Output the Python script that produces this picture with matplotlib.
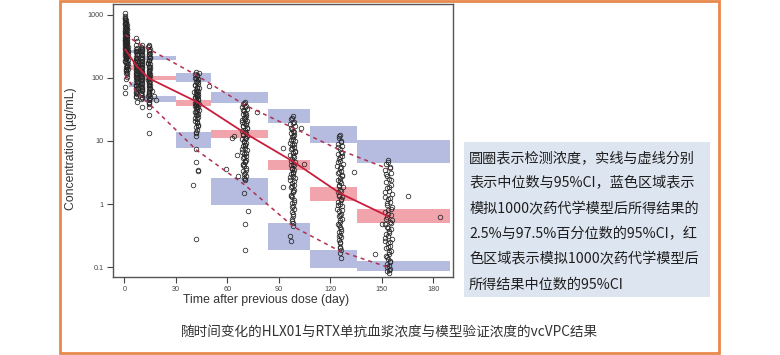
import matplotlib
matplotlib.use("Agg")
import matplotlib.pyplot as plt
from matplotlib.patches import Rectangle

# ---------------- data ----------------
# observed concentrations (ug/mL) by sampling cluster
t1 = [0.3, 0.1, 0.5, 0.2, 0.8, 0.4, 1.1, 0.6, 0.2, 1.3, 0.7, 0.3, 1.0, 0.5, 1.5, 0.9, 0.2, 1.2, 0.6, 1.7,
      0.4, 0.9, 1.4, 0.3, 1.1, 0.7, 1.8, 0.5, 1.0, 0.2, 1.3, 0.8, 1.6, 0.4, 1.2, 0.6, 2.0, 0.9, 0.3, 1.4,
      0.7, 1.1, 1.9, 0.5, 1.3, 0.8, 2.2, 1.0, 0.4, 1.6, 0.9, 1.2, 2.1, 0.6, 1.5, 1.0, 1.8, 1.3, 0.8, 2.0,
      1.1, 1.6, 0.9, 1.7, 1.0, 0.6, 0.4,
      0.6, 1.2, 0.3, 0.9, 1.5, 0.4, 1.0, 0.7, 1.8, 0.2, 1.3, 0.6, 1.1, 0.3, 1.6, 0.8, 1.4, 0.5, 1.9, 1.0,
      0.3, 1.7, 0.9, 1.2, 0.5, 2.0, 1.4, 0.7, 1.1, 1.5]
c1 = [1050, 960, 900, 860, 820, 790, 760, 730, 700, 680, 660, 640, 620, 600, 585, 570, 550, 535, 520, 505,
      490, 475, 460, 450, 440, 425, 410, 400, 390, 380, 370, 360, 350, 340, 330, 320, 312, 305, 298, 290,
      282, 275, 268, 260, 252, 245, 238, 230, 222, 215, 208, 200, 192, 185, 178, 170, 162, 155, 148, 140,
      133, 126, 120, 102, 95, 71, 58,
      870, 750, 710, 630, 590, 545, 510, 470, 455, 430, 415, 395, 375, 355, 335, 318, 300, 285, 270, 255,
      240, 225, 212, 198, 182, 165, 150, 137, 128, 115]
t2 = [7.0, 6.6, 7.3, 6.8, 7.5, 6.5, 7.1, 7.6, 6.7, 7.2, 6.9, 7.4, 6.4, 7.0, 7.7, 6.6, 7.2, 6.8, 7.5, 7.0,
      6.5, 7.3, 6.9, 7.6, 6.7, 7.1, 7.4, 6.6, 7.0, 7.8, 6.8, 7.2, 6.5, 7.5, 7.0, 6.9, 7.3,
      7.1, 6.8, 7.4, 6.6, 7.2, 7.0, 7.5, 6.7, 7.3, 6.9, 7.1, 7.6, 6.8, 7.2, 7.0]
c2 = [425, 330, 300, 285, 270, 255, 240, 228, 215, 205, 195, 185, 175, 166, 158, 150, 142, 135, 128, 121,
      115, 109, 103, 98, 93, 88, 83, 78, 74, 70, 66, 62, 58, 55, 52, 49, 42,
      380, 265, 235, 200, 180, 160, 145, 132, 118, 106, 96, 86, 76, 68, 60]
t3 = [10.1, 9.8, 10.4, 10.0, 9.7, 10.3, 10.1, 9.9, 10.5, 10.0, 9.8, 10.2, 10.4, 9.9, 10.1, 9.7, 10.3, 10.0,
      10.5, 9.8, 10.2, 10.0, 9.9, 10.4, 10.1, 9.8, 10.3, 10.0, 10.2, 9.9, 10.4, 10.1, 9.8, 10.0,
      10.0, 10.3, 9.8, 10.2, 10.5, 9.9, 10.1, 10.4, 9.7, 10.0, 10.3, 9.9, 10.2, 10.1, 9.8, 10.2]
c3 = [330, 310, 290, 272, 256, 240, 226, 212, 200, 188, 178, 168, 158, 150, 142, 134, 126, 119, 112, 106,
      100, 94, 89, 84, 79, 74, 70, 66, 62, 58, 54, 50, 46, 35,
      300, 262, 232, 205, 183, 163, 146, 130, 116, 103, 92, 82, 72, 64, 56, 48]
t4 = [14.4, 14.0, 14.7, 14.2, 14.9, 14.5, 14.1, 14.8, 14.3, 14.6, 14.0, 14.9, 14.4, 14.2, 14.7, 14.5, 14.1,
      14.8, 14.3, 14.6, 14.4, 14.0, 14.7, 14.2, 14.9, 14.5, 14.1, 14.8, 14.3, 14.6, 14.4, 14.0, 14.7, 14.2,
      14.5, 14.3, 14.4, 14.3, 14.2, 16.3, 17.0, 18.5,
      14.3, 14.6, 14.1, 14.8, 14.4, 14.0, 14.7, 14.2, 14.5, 14.9, 14.3, 14.6, 14.1, 14.8, 14.4, 14.2, 14.6,
      14.3]
c4 = [330, 305, 285, 268, 250, 235, 220, 207, 195, 184, 174, 164, 155, 146, 138, 130, 123, 116, 110, 104,
      98, 93, 88, 83, 78, 74, 70, 66, 62, 58, 55, 51, 48, 44, 41, 38, 35, 26, 13.5, 62, 52, 45,
      315, 276, 242, 214, 190, 169, 150, 134, 120, 107, 95, 85, 76, 68, 60, 53, 46, 40]
t5 = [42.0, 41.4, 42.6, 41.0, 43.0, 42.2, 41.6, 42.9, 41.2, 42.4, 43.3, 41.8, 42.1, 40.8, 42.7, 41.5, 43.1,
      42.3, 41.1, 42.8, 41.7, 42.5, 40.9, 43.2, 42.0, 41.3, 42.6, 41.9, 43.4, 42.2, 41.0, 42.8, 41.6, 43.0,
      42.4, 41.4, 42.1, 42.7, 41.8, 42.3, 41.5, 42.0, 42.0, 42.0, 42.8, 43.1, 39.7, 42.0, 49.5, 43.7,
      42.3, 41.7, 42.9, 41.3, 42.5, 43.1, 41.9, 42.2, 41.1, 42.7, 42.0, 41.5, 43.0, 42.4, 41.8, 42.6, 41.4,
      42.1, 42.8, 41.9]
c5 = [125, 116, 108, 101, 95, 90, 85, 80, 76, 72, 68, 65, 62, 59, 56, 54, 52, 50, 48, 46, 44, 42, 40.5, 39,
      37.5, 36, 34.5, 33, 31.5, 30, 28.5, 27, 25.5, 24, 22.5, 21, 19.5, 18, 16.5, 15, 13.5, 12, 7.6, 4.7,
      3.5, 3.4, 2.0, 0.28, 74, 118,
      112, 98, 87, 78, 70, 63, 57, 53, 49, 45, 41, 38, 35, 32, 29, 26, 23, 20, 17, 14]
t6 = [70.0, 69.2, 70.8, 68.6, 71.4, 69.8, 70.4, 68.9, 71.0, 69.5, 70.2, 71.6, 68.4, 69.9, 70.6, 69.1, 71.2,
      70.0, 68.7, 70.9, 69.4, 71.5, 70.3, 68.8, 69.7, 71.1, 70.5, 69.0, 70.1, 71.3, 68.5, 69.6, 70.7, 69.3,
      71.0, 70.2, 68.9, 69.8, 70.6, 69.4, 70.0, 70.8, 69.5, 70.3,
      62.6, 64.0, 65.8, 59.2, 66.0, 69.6, 72.1, 70.3, 70.3, 77.0,
      69.6, 70.5, 69.0, 71.1, 70.2, 68.8, 70.7, 69.4, 71.3, 70.0, 69.2, 70.9, 69.7, 70.4, 68.7, 71.0, 69.9,
      70.3, 69.3, 70.8, 69.6, 70.1]
c6 = [42, 39, 36, 34, 32, 30, 28, 26.5, 25, 23.5, 22, 21, 20, 19, 18, 17, 16, 15.2, 14.4, 13.6, 12.8, 12,
      11.3, 10.6, 10, 9.4, 8.8, 8.2, 7.7, 7.2, 6.7, 6.2, 5.8, 5.4, 5.0, 4.6, 4.3, 4.0, 3.7, 3.4, 3.1, 2.8,
      2.6, 2.4,
      11, 12, 6.0, 3.6, 2.8, 1.48, 0.79, 0.48, 0.19, 29,
      40, 35, 31, 27, 24, 21.5, 19.5, 17.5, 15.8, 14, 12.4, 11, 9.7, 8.5, 7.5, 6.5, 5.6, 4.8, 4.1, 3.5,
      3.0, 2.5]
t7 = [98.0, 97.2, 98.8, 96.6, 99.4, 97.8, 98.4, 96.9, 99.0, 97.5, 98.2, 99.6, 96.4, 97.9, 98.6, 97.1, 99.2,
      98.0, 96.7, 98.9, 97.4, 99.5, 98.3, 96.8, 97.7, 99.1, 98.5, 97.0, 98.1, 99.3, 96.5, 97.6, 98.7, 97.3,
      99.0, 98.2, 96.9, 97.8, 98.6, 97.4, 98.0, 98.8, 97.5, 98.3, 97.9, 98.4, 98.1,
      92.7, 103.1, 96.5, 97.0, 92.6, 104.7,
      97.6, 98.5, 97.0, 99.1, 98.2, 96.8, 98.7, 97.4, 99.3, 98.0, 97.2, 98.9, 97.7, 98.4, 96.7, 99.0, 97.9,
      98.3, 97.3, 98.8, 97.6, 98.1, 97.8]
c7 = [24.5, 22, 20, 18.5, 17, 15.7, 14.5, 13.4, 12.4, 11.5, 10.7, 10, 9.3, 8.6, 8, 7.4, 6.9, 6.4, 5.9, 5.5,
      5.1, 4.7, 4.4, 4.1, 3.8, 3.5, 3.2, 3.0, 2.8, 2.6, 2.4, 2.2, 2.0, 1.85, 1.7, 1.55, 1.4, 1.28, 1.16,
      1.05, 0.95, 0.85, 0.75, 0.66, 0.58, 0.5, 0.45,
      1.9, 16, 0.31, 0.26, 7.7, 4.4,
      23, 19, 16.3, 13.9, 12, 10.3, 8.9, 7.7, 6.6, 5.7, 4.9, 4.2, 3.6, 3.1, 2.7, 2.3, 1.95, 1.62, 1.34,
      1.1, 0.9, 0.7, 0.55]
t8 = [125.6, 124.8, 126.4, 124.2, 127.0, 125.4, 126.0, 124.5, 126.6, 125.1, 125.8, 127.2, 124.0, 125.5,
      126.2, 124.7, 126.8, 125.6, 124.3, 126.5, 125.0, 127.1, 125.9, 124.4, 125.3, 126.7, 126.1, 124.6,
      125.7, 126.9, 124.1, 125.2, 126.3, 124.9, 126.6, 125.8, 124.5, 125.4, 126.2, 125.0, 125.6, 126.4,
      125.1, 125.9, 125.5, 126.0, 125.7,
      126.0, 134.0,
      125.2, 126.1, 124.6, 126.7, 125.8, 124.4, 126.3, 125.0, 126.9, 125.6, 124.8, 126.5, 125.3, 126.0,
      124.3, 126.6, 125.5, 125.9, 124.9, 126.4, 125.2, 125.7, 125.4]
c8 = [12.6, 11.2, 10, 9, 8.2, 7.5, 6.8, 6.2, 5.7, 5.2, 4.8, 4.4, 4.0, 3.7, 3.4, 3.1, 2.85, 2.6, 2.4, 2.2,
      2.0, 1.85, 1.7, 1.55, 1.42, 1.3, 1.2, 1.1, 1.0, 0.92, 0.84, 0.77, 0.7, 0.64, 0.58, 0.53, 0.48, 0.44,
      0.4, 0.36, 0.33, 0.3, 0.27, 0.24, 0.21, 0.19, 0.17,
      0.14, 3.2,
      11.8, 9.5, 7.9, 6.5, 5.5, 4.6, 3.85, 3.25, 2.75, 2.3, 1.93, 1.62, 1.36, 1.15, 0.96, 0.8, 0.67, 0.56,
      0.46, 0.38, 0.31, 0.25, 0.2]
t9 = [153.8, 152.6, 155.0, 151.9, 155.6, 153.2, 154.4, 152.2, 155.3, 153.0, 154.1, 156.0, 151.6, 153.5,
      154.8, 152.8, 155.8, 153.8, 152.0, 155.1, 153.3, 156.2, 154.6, 151.8, 153.1, 155.4, 154.2, 152.4,
      153.6, 155.7, 151.7, 153.4, 154.9, 152.5, 155.2, 154.0, 152.3, 153.7, 154.5, 152.9, 153.9, 155.0,
      153.2, 154.3,
      165.1, 184.0, 146.0, 150.0,
      153.5, 154.6, 152.7, 155.3, 154.0, 152.1, 154.8, 153.1, 155.5, 153.8, 152.5, 155.1, 153.4, 154.3,
      151.9, 155.0, 153.6, 154.2, 152.8, 154.7, 153.3, 154.1]
c9 = [5.0, 4.4, 3.9, 3.5, 3.1, 2.8, 2.5, 2.25, 2.0, 1.8, 1.62, 1.46, 1.32, 1.2, 1.08, 0.98, 0.89, 0.81,
      0.74, 0.68, 0.62, 0.57, 0.52, 0.48, 0.44, 0.4, 0.37, 0.34, 0.31, 0.28, 0.26, 0.24, 0.22, 0.2, 0.18,
      0.165, 0.15, 0.137, 0.125, 0.114, 0.104, 0.095, 0.088, 0.081,
      1.34, 0.63, 0.16, 0.48,
      4.7, 3.7, 2.95, 2.38, 1.9, 1.54, 1.26, 1.03, 0.85, 0.71, 0.59, 0.5, 0.42, 0.355, 0.295, 0.25, 0.21,
      0.175, 0.145, 0.12, 0.1, 0.09]

# simulated 95% CI boxes per time bin
bin_lo = [2.5, 11.0, 30.1, 50.3, 83.9, 108.2, 135.8]
bin_hi = [11.0, 30.1, 50.3, 83.9, 108.2, 135.8, 189.8]
p95_lo = [245, 192, 87, 39.6, 19.1, 9.2, 4.46]
p95_hi = [276, 222, 121, 60.5, 31.8, 17.3, 10.4]
p50_lo = [133, 93, 35.9, 11.0, 3.5, 1.14, 0.50]
p50_hi = [160, 107, 44.7, 15.0, 5.0, 1.9, 0.83]
p05_lo = [72, 42, 7.7, 0.97, 0.19, 0.097, 0.086]
p05_hi = [86, 52, 14.1, 2.58, 0.50, 0.189, 0.124]

# observed percentiles
vpc_t = [0.5, 7.5, 14.4, 42.0, 70.3, 98.5, 125.6, 153.8]
obs_p50 = [280, 150, 98, 42, 13.3, 4.7, 1.49, 0.64]
obs_p95 = [480, 360, 285, 110, 37, 16, 7.2, 3.6]
obs_p05 = [110, 57, 39, 7.2, 2.0, 0.44, 0.18, 0.10]

x_ticks = [0, 30, 60, 90, 120, 150, 180]
y_ticks = [0.1, 1, 10, 100, 1000]
y_ticklabels = ["0.1", "1", "10", "100", "1000"]

note_lines = ["圆圈表示检测浓度，实线与虚线分别",
              "表示中位数与95%CI，蓝色区域表示",
              "模拟1000次药代学模型后所得结果的",
              "2.5%与97.5%百分位数的95%CI，红",
              "色区域表示模拟1000次药代学模型后",
              "所得结果中位数的95%CI"]
caption = "随时间变化的HLX01与RTX单抗血浆浓度与模型验证浓度的vcVPC结果"

# ---------------- figure ----------------
W, H = 780, 355
fig = plt.figure(figsize=(7.8, 3.55), dpi=100)
fig.patch.set_facecolor("white")


def fx(px):
    return px / W


def fy(py):
    return 1 - py / H


# orange frame
fig.patches.append(Rectangle((fx(60), fy(353)), (719 - 60) / W, (353 - 1) / H,
                             transform=fig.transFigure, fill=False,
                             edgecolor="#e8894c", linewidth=2))
# note box
fig.patches.append(Rectangle((fx(464), fy(297)), (710 - 464) / W, (297 - 142) / H,
                             transform=fig.transFigure, facecolor="#dde5f0",
                             edgecolor="none"))

ax = fig.add_axes([fx(112.7), fy(277.3), (452.7 - 112.7) / W, (277.3 - 4) / H])
ax.set_yscale("log")
ax.set_xlim(-6.8, 191.3)
ax.set_ylim(0.0695, 1476)

blue = "#b5bcdf"
pink = "#f2a4ad"
for i in range(len(bin_lo)):
    w = bin_hi[i] - bin_lo[i]
    ax.add_patch(Rectangle((bin_lo[i], p95_lo[i]), w, p95_hi[i] - p95_lo[i],
                           facecolor=blue, edgecolor="none", zorder=1))
    ax.add_patch(Rectangle((bin_lo[i], p50_lo[i]), w, p50_hi[i] - p50_lo[i],
                           facecolor=pink, edgecolor="none", zorder=1))
    ax.add_patch(Rectangle((bin_lo[i], p05_lo[i]), w, p05_hi[i] - p05_lo[i],
                           facecolor=blue, edgecolor="none", zorder=1))

times = t1 + t2 + t3 + t4 + t5 + t6 + t7 + t8 + t9
conc = c1 + c2 + c3 + c4 + c5 + c6 + c7 + c8 + c9
ax.plot(times, conc, "o", mfc="none", mec="#262626", ms=3.3, mew=0.55,
        zorder=3, linestyle="none")

ax.plot(vpc_t, obs_p50, color="#c81e3c", lw=1.3, zorder=4)
ax.plot(vpc_t, obs_p95, color="#b0304f", lw=1.1, ls=(0, (2.6, 2.6)), zorder=4)
ax.plot(vpc_t, obs_p05, color="#b0304f", lw=1.1, ls=(0, (2.6, 2.6)), zorder=4)

ax.set_xticks(x_ticks)
ax.set_xticklabels([str(v) for v in x_ticks])
ax.set_yticks(y_ticks)
ax.set_yticklabels(y_ticklabels)
ax.minorticks_off()
ax.tick_params(axis="both", direction="out", length=4, width=0.8, color="#444444",
               labelsize=5.2, labelcolor="#444444", pad=2.5)
for lab in ax.get_xticklabels() + ax.get_yticklabels():
    lab.set_family("Liberation Sans")
for s in ax.spines.values():
    s.set_color("#555555")
    s.set_linewidth(1.0)

fig.text(fx(71), fy(148.5), "Concentration (µg/mL)", rotation=90, ha="center",
         va="center", fontsize=8.8, color="#333333", family="Liberation Sans")
fig.text(fx(266), fy(300), "Time after previous dose (day)", ha="center",
         va="center", fontsize=8.8, color="#333333", family="Liberation Sans")

ys = [158, 183.5, 209, 234.5, 259.5, 284.5]
for y, line in zip(ys, note_lines):
    fig.text(fx(469), fy(y), line, ha="left", va="center", fontsize=10.2,
             color="#1e1e1e", family=["Noto Sans CJK SC", "DejaVu Sans"])

fig.text(fx(389.5), fy(333), caption, ha="center", va="center", fontsize=9.8,
         color="#333333", family=["Noto Sans CJK SC", "DejaVu Sans"])

fig.savefig("out.png", dpi=100)
